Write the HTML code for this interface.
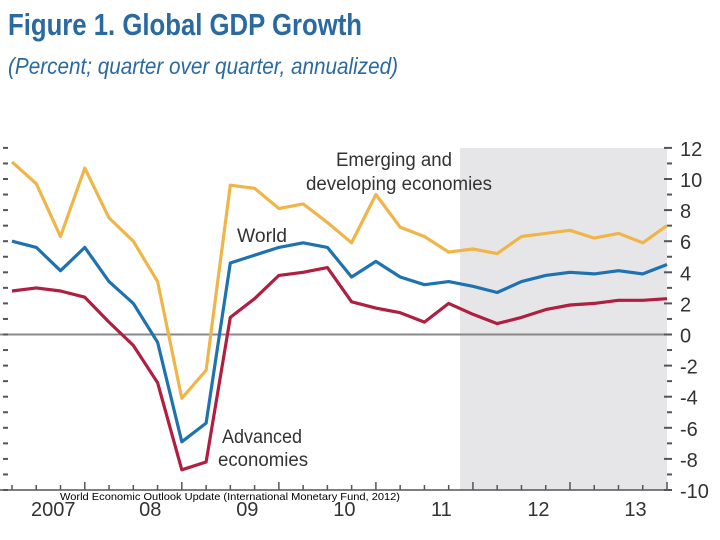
<!DOCTYPE html>
<html><head><meta charset="utf-8"><style>
html,body{margin:0;padding:0;background:#fff;width:720px;height:540px;overflow:hidden}
svg{display:block;font-family:"Liberation Sans",sans-serif}
</style></head><body>
<svg id="chart" width="720" height="540" viewBox="0 0 720 540">
<text x="8" y="35" font-size="31" font-weight="bold" fill="#2a6aa0" textLength="354" lengthAdjust="spacingAndGlyphs">Figure 1.  Global GDP Growth</text>
<text x="8" y="74" font-size="23" font-style="italic" fill="#2a6aa0" textLength="390" lengthAdjust="spacingAndGlyphs">(Percent; quarter over quarter, annualized)</text>
<rect x="460" y="148" width="207" height="342" fill="#e6e6e9"/>
<g id="axes"></g>
<g id="lines"></g>
<text x="336" y="166" font-size="19" fill="#333" textLength="116" lengthAdjust="spacingAndGlyphs">Emerging and</text>
<text x="306" y="190" font-size="19" fill="#333" textLength="186" lengthAdjust="spacingAndGlyphs">developing economies</text>
<text x="237" y="242" font-size="19" fill="#333" textLength="50" lengthAdjust="spacingAndGlyphs">World</text>
<text x="222" y="443" font-size="19" fill="#333" textLength="80" lengthAdjust="spacingAndGlyphs">Advanced</text>
<text x="218" y="466" font-size="19" fill="#333" textLength="90" lengthAdjust="spacingAndGlyphs">economies</text>
<text x="60" y="500" font-size="10.5" fill="#000" textLength="340" lengthAdjust="spacingAndGlyphs">World Economic Outlook Update (International Monetary Fund, 2012)</text>
</svg>
<script>
const emerging=[11.1,9.7,6.3,10.7,7.5,6.0,3.4,-4.1,-2.3,9.6,9.4,8.1,8.4,7.2,5.9,9.0,6.9,6.3,5.3,5.5,5.2,6.3,6.5,6.7,6.2,6.5,5.9,7.0];
const world=[6.0,5.6,4.1,5.6,3.4,2.0,-0.5,-6.9,-5.7,4.6,5.1,5.6,5.9,5.6,3.7,4.7,3.7,3.2,3.4,3.1,2.7,3.4,3.8,4.0,3.9,4.1,3.9,4.5];
const advanced=[2.8,3.0,2.8,2.4,0.8,-0.7,-3.1,-8.7,-8.2,1.1,2.3,3.8,4.0,4.3,2.1,1.7,1.4,0.8,2.0,1.3,0.7,1.1,1.6,1.9,2.0,2.2,2.2,2.3];
const yTicks=[12,10,8,6,4,2,0,-2,-4,-6,-8,-10];
const years=["2007","08","09","10","11","12","13"];
const NS="http://www.w3.org/2000/svg";
const X0=12,DX=24.26,Y0=334.5,KY=15.55;
function xs(i){return X0+i*DX;}
function ys(v){return Y0-v*KY;}
const axes=document.getElementById('axes'),lines=document.getElementById('lines');
function mk(tag,attrs,parent){const e=document.createElementNS(NS,tag);for(const k in attrs)e.setAttribute(k,attrs[k]);parent.appendChild(e);return e;}
// zero line
let z=mk('line',{x1:0,x2:667,y1:ys(0),y2:ys(0),stroke:'#888','stroke-width':2},axes);


// x axis
let xa=mk('line',{x1:0,x2:672,y1:ys(-10),y2:ys(-10),stroke:'#555','stroke-width':1.5},axes);


for(let v=12;v>=-10;v--){
  let t=mk('line',{x1:3,x2:8,y1:ys(v),y2:ys(v),stroke:'#555','stroke-width':2},axes);
  
  
  let r=mk('line',{x1:(v%2===0?664:667),x2:672,y1:ys(v),y2:ys(v),stroke:'#555','stroke-width':2},axes);
  
  
}
yTicks.forEach(v=>{
  let t=mk('text',{x:680,y:ys(v)+8,'font-size':20,fill:'#333'},axes);
  t.textContent=String(v);
  
  
});
for(let i=0;i<28;i++){
  let t=mk('line',{x1:xs(i),x2:xs(i),y1:ys(-10)-(i%4===3?8:5),y2:ys(-10),stroke:'#555','stroke-width':1.5},axes);
  
  
}
years.forEach((y,k)=>{
  let t=mk('text',{x:xs(k*4+1.7),y:516,'font-size':20,fill:'#333','text-anchor':'middle'},axes);
  t.textContent=y;
  
  
});
function series(arr,color,name){
  const d=arr.map((v,i)=>(i?'L':'M')+xs(i).toFixed(1)+' '+ys(v).toFixed(1)).join(' ');
  let p=mk('path',{d:d,fill:'none',stroke:color,'stroke-width':3.2,'stroke-linejoin':'round'},lines);
  
  
}
series(emerging,'#f0b548','emerging-line');
series(world,'#1f72b0','world-line');
series(advanced,'#b01e40','advanced-line');
</script>
</body></html>
